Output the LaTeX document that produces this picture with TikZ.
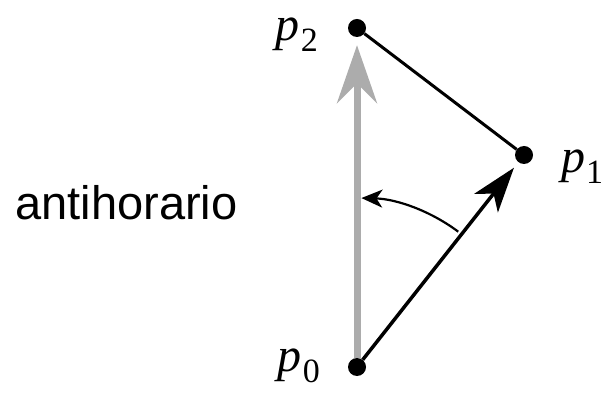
\documentclass[tikz,border=0pt]{standalone}
\usepackage{fontspec}
\usetikzlibrary{positioning,arrows.meta,calc}
\newfontfamily\labelsans{Liberation Sans}
\newfontfamily\labelserif{Liberation Serif}
\newcommand{\ptname}[1]{{\labelserif\itshape p}\kern1pt%
    \raisebox{-11pt}{\labelserif\upshape\fontsize{34}{40}\selectfont #1}}

\begin{document}
\begin{tikzpicture}[
    x=1pt, y=1pt,
    dot/.style={circle, fill=black, inner sep=0pt, minimum size=18pt},
    ptlabel/.style={font=\labelserif\fontsize{48}{56}\selectfont, inner sep=0pt},
    graybar/.style={line width=7pt, draw=gray!65,
                    -{Stealth[length=58pt, width=40pt, inset=20pt]}},
    vecarrow/.style={line width=3.5pt,
                    -{Stealth[length=45pt, width=30pt, inset=12pt]}},
    edge/.style={line width=3pt},
    turn/.style={line width=2.2pt,
                 -{Stealth[length=21pt, width=18pt, inset=6pt]}},
]
\useasboundingbox (0,0) rectangle (612,393);

% Points
\node[dot] (p0) at (357, 26) {};
\node[dot] (p1) at (524, 238) {};
\node[dot] (p2) at (357, 365) {};

% Vectors
\draw[graybar, shorten >=8pt] (p0) -- (p2);
\draw[edge] (p2) -- (p1);
\draw[vecarrow, shorten >=7pt] (p0) -- (p1);

% Turning direction
\coordinate (arcstart) at ($(p0.center)+(53.2:169)$);
\draw[turn] (arcstart) arc[start angle=53.2, end angle=88.5, radius=169];

% Labels
\node[ptlabel, anchor=base east] (l0) at (320, 22) {\ptname{0}};
\node[ptlabel, anchor=base west] (l1) at (561, 220) {\ptname{1}};
\node[ptlabel, anchor=base east] (l2) at (318, 352) {\ptname{2}};
\node[font=\labelsans\fontsize{47}{56}\selectfont, anchor=base, inner sep=0pt]
    (dir) at (126.5, 173) {antihorario};
\end{tikzpicture}
\end{document}
